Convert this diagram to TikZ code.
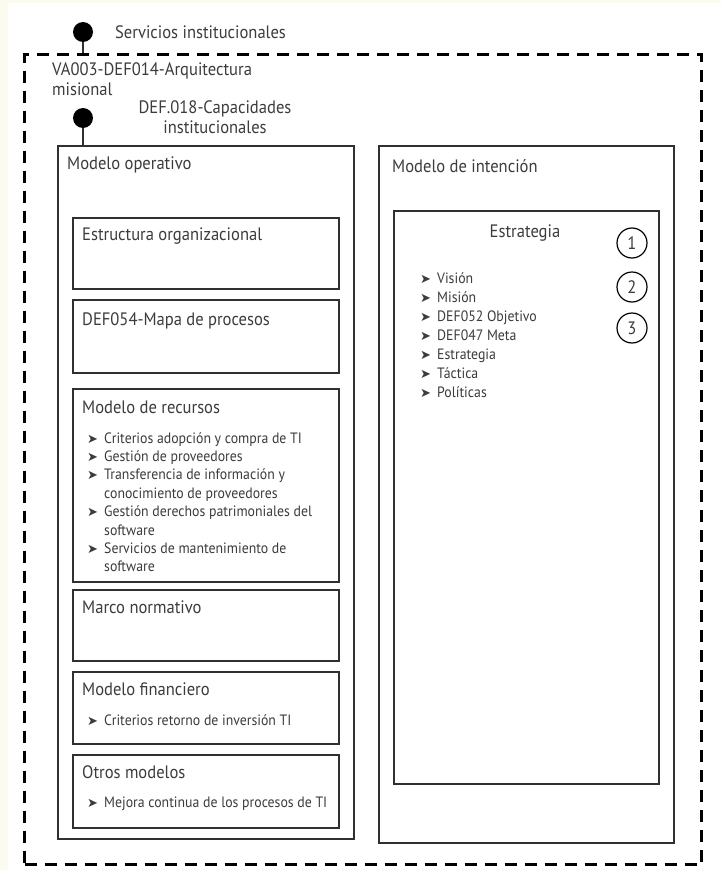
\documentclass[tikz,border=0pt]{standalone}
\usepackage{fontspec}
\setmainfont[FakeStretch=0.92]{PT Sans}
\newfontfamily\dejavu{DejaVu Sans}
\usetikzlibrary{positioning}

\definecolor{textogris}{HTML}{3C3C3C}
\definecolor{lineagris}{HTML}{303030}
\definecolor{fondo}{HTML}{FBFBF0}

% vinetas de las listas
\newcommand{\flecha}{\makebox[17pt][l]{\dejavu\fontsize{13}{13}\selectfont ➤}}
\newcommand{\sigue}{\hspace*{17pt}}

\begin{document}
\begin{tikzpicture}[x=1pt, y=-1pt,
    marco/.style={draw=black, line width=3pt, dash pattern=on 12pt off 8pt, anchor=north west, inner sep=0pt},
    caja/.style={draw=lineagris, line width=1.6pt, anchor=north west, inner sep=0pt},
    titulo/.style={anchor=base west, inner sep=0pt, text=textogris, font=\fontsize{18}{20}\selectfont},
    item/.style={anchor=base west, inner sep=0pt, text=textogris, font=\fontsize{15}{18}\selectfont},
    punto/.style={circle, fill=black, minimum size=20pt, inner sep=0pt},
    numero/.style={circle, draw=black, line width=1.2pt, minimum size=30pt, inner sep=0pt,
        text=textogris, font=\fontsize{18}{18}\selectfont}]

    % Fondo
    \useasboundingbox (0,0) rectangle (721,870);
    \fill[fondo] (0,0) rectangle (721,870);
    \fill[white] (8,3) rectangle (721,870);

    % Marco punteado de la arquitectura misional
    \node[marco, minimum width=677pt, minimum height=810pt] (arq) at (23,53) {};
    \node[punto] (srv) at (83,32) {};
    \node[titulo] (srvtxt) at (115,38) {Servicios institucionales};
    \draw[line width=2pt, lineagris] (srv.south) -- (srv.south |- arq.north);
    \node[titulo, anchor=north west, align=left, font=\fontsize{18}{20}\selectfont] (arqtxt) at (52,62)
        {VA003-DEF014-Arquitectura\\misional};

    % Capacidades institucionales
    \node[punto] (cap) at (83,118) {};
    \node[titulo, anchor=north, align=center] (captxt) at (215,100)
        {DEF.018-Capacidades\\institucionales};

    % Modelo operativo
    \node[caja, minimum width=296pt, minimum height=693pt] (oper) at (57,145) {};
    \draw[line width=2pt, lineagris] (cap.south) -- (cap.south |- oper.north);
    \node[titulo] (opertxt) at (67,169) {Modelo operativo};

    \node[caja, minimum width=266pt, minimum height=71pt] (estr) at (72,217) {};
    \node[titulo] (estrtxt) at (82,240) {Estructura organizacional};

    \node[caja, minimum width=266pt, minimum height=73pt] (mapa) at (72,299) {};
    \node[titulo] (mapatxt) at (82,325) {DEF054-Mapa de procesos};

    \node[caja, minimum width=266pt, minimum height=193pt] (recu) at (72,388) {};
    \node[titulo] (recutxt) at (82,413) {Modelo de recursos};
    \foreach \b/\t [count=\i] in {\flecha/Criterios adopción y compra de TI,
            \flecha/Gestión de proveedores,
            \flecha/Transferencia de información y,
            \sigue/conocimiento de proveedores,
            \flecha/Gestión derechos patrimoniales del,
            \sigue/software,
            \flecha/Servicios de mantenimiento de,
            \sigue/software}{
        \node[item] (recu-\i) at (87,{443+18.4*(\i-1)}) {\b\t};
    }

    \node[caja, minimum width=266pt, minimum height=71pt] (marc) at (72,589) {};
    \node[titulo] (marctxt) at (82,613) {Marco normativo};

    \node[caja, minimum width=266pt, minimum height=72pt] (fina) at (72,671) {};
    \node[titulo] (finatxt) at (82,695) {Modelo financiero};
    \node[item] (fina-1) at (87,725) {\flecha Criterios retorno de inversión TI};

    \node[caja, minimum width=266pt, minimum height=73pt] (otro) at (72,754) {};
    \node[titulo] (otrotxt) at (82,778) {Otros modelos};
    \node[item] (otro-1) at (87,807) {\flecha Mejora continua de los procesos de TI};

    % Modelo de intencion
    \node[caja, minimum width=295pt, minimum height=697pt] (inte) at (378,145) {};
    \node[titulo] (intetxt) at (392,172) {Modelo de intención};

    \node[caja, minimum width=265pt, minimum height=573pt] (estg) at (393,210) {};
    \node[titulo, anchor=base] (estgtxt) at (525,237) {Estrategia};
    \foreach \t [count=\i] in {Visión, Misión, DEF052 Objetivo, DEF047 Meta,
            Estrategia, Táctica, Políticas}{
        \node[item] (estg-\i) at (420,{283+19*(\i-1)}) {\flecha\t};
    }

    % Numeros
    \foreach \n/\y in {1/243, 2/287, 3/328}{
        \node[numero] (num-\n) at (632,\y) {\n};
    }
\end{tikzpicture}
\end{document}
